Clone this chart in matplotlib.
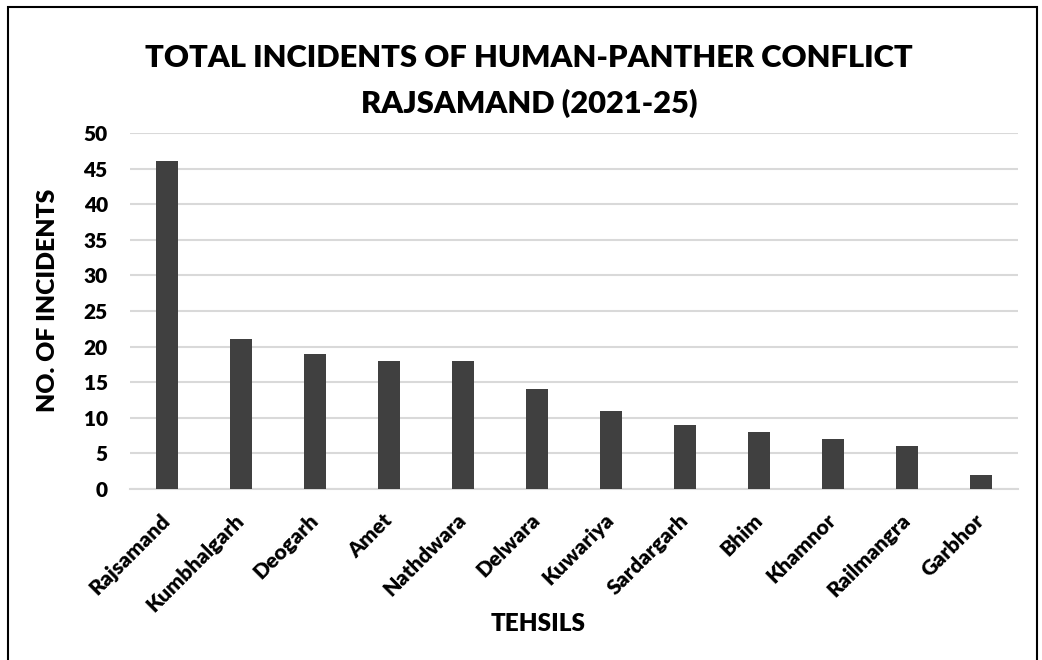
import matplotlib
matplotlib.use("Agg")
import matplotlib.pyplot as plt
from matplotlib.patches import Rectangle

tehsils = ["Rajsamand", "Kumbhalgarh", "Deogarh", "Amet", "Nathdwara", "Delwara",
           "Kuwariya", "Sardargarh", "Bhim", "Khamnor", "Railmangra", "Garbhor"]
incidents = [46, 21, 19, 18, 18, 14, 11, 9, 8, 7, 6, 2]
yticks = [0, 5, 10, 15, 20, 25, 30, 35, 40, 45, 50]

W, H = 1042, 660
fig = plt.figure(figsize=(W / 100, H / 100), dpi=100)
ax = fig.add_axes([130 / W, 1 - 489 / H, (1018 - 130) / W, (489 - 133) / H])

x = list(range(len(tehsils)))
ax.bar(x, incidents, width=0.31, color="#404040", zorder=3)
ax.set_xlim(-0.5, len(tehsils) - 0.5)
ax.set_ylim(0, 50)
ax.set_yticks(yticks)
ax.yaxis.grid(True, color="#d9d9d9", linewidth=1.5, zorder=0)
for s in ["top", "right", "left"]:
    ax.spines[s].set_visible(False)
ax.spines["bottom"].set_color("#d9d9d9")
ax.spines["bottom"].set_linewidth(1.5)
ax.tick_params(axis="both", length=0)
ax.tick_params(axis="y", pad=16)
ax.tick_params(axis="x", pad=20)

ax.set_xticks(x)
ax.set_xticklabels(tehsils, rotation=45, ha="right", va="center", rotation_mode="anchor",
                   fontfamily="Lato", fontweight="heavy", fontsize=15.3)
for lbl in ax.get_yticklabels():
    lbl.set_fontfamily("Lato")
    lbl.set_fontweight("heavy")
    lbl.set_fontsize(15)

fig.text(529 / W, 1 - 58 / H, "TOTAL INCIDENTS OF HUMAN-PANTHER CONFLICT",
         ha="center", va="center", fontfamily="Lato", fontweight="heavy", fontsize=22.2)
fig.text(529 / W, 1 - 103 / H, "RAJSAMAND (2021-25)",
         ha="center", va="center", fontfamily="Lato", fontweight="heavy", fontsize=22.2)
fig.text(48 / W, 1 - 300 / H, "NO. OF INCIDENTS", rotation=90,
         ha="center", va="center", fontfamily="Lato", fontweight="heavy", fontsize=17.8)
fig.text(538 / W, 1 - 624 / H, "TEHSILS",
         ha="center", va="center", fontfamily="Lato", fontweight="heavy", fontsize=17.5)

fig.patches.append(Rectangle((8 / W, -0.05), (1037 - 8) / W, 1 - 7 / H + 0.05,
                             transform=fig.transFigure, fill=False,
                             edgecolor="black", linewidth=1.5))

fig.savefig("out.png", dpi=100)
